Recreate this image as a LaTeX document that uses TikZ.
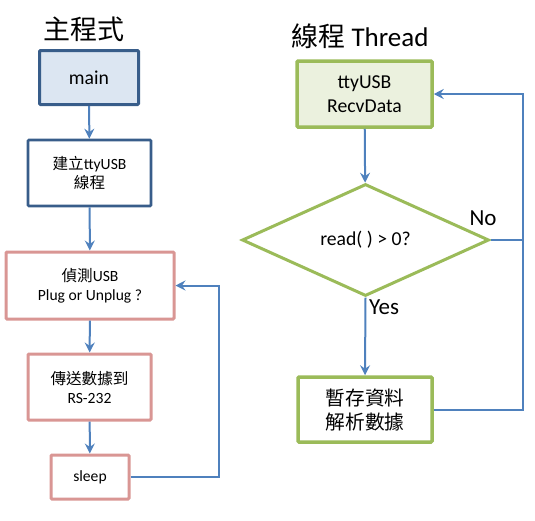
\documentclass[tikz,border=0pt]{standalone}
\usepackage{fontspec}
\setmainfont{Carlito}
\newfontfamily\cjk{Noto Sans CJK TC}
\usepackage{tikz}
\usetikzlibrary{arrows.meta, positioning, shapes.geometric}

\definecolor{mainfill}{HTML}{DCE6F2}
\definecolor{mainline}{HTML}{385D8A}
\definecolor{pinkline}{HTML}{D99694}
\definecolor{greenline}{HTML}{9BBB59}
\definecolor{greenfill}{HTML}{EBF1DE}
\definecolor{flowblue}{HTML}{4F81BD}

\begin{document}
\begin{tikzpicture}[
  x=1pt, y=-1pt,
  box/.style={draw, rounded corners=1pt, align=center, font=\fontsize{15.6}{19}\selectfont,
              inner sep=0pt},
  bigtext/.style={font=\fontsize{19.7}{24}\selectfont},
  mainbox/.style={box, bigtext, fill=mainfill, draw=mainline, line width=3pt},
  bluebox/.style={box, fill=white, draw=mainline, line width=2.7pt},
  pinkbox/.style={box, fill=white, draw=pinkline, line width=3pt},
  greenbox/.style={box, bigtext, draw=greenline, line width=3.5pt},
  decision/.style={diamond, draw=greenline, line width=3pt, fill=white,
              bigtext, inner sep=0pt},
  title/.style={font=\fontsize{27}{32}\selectfont},
  answer/.style={font=\fontsize{23}{27}\selectfont},
  arr/.style={-{Stealth[length=10pt, width=10pt, inset=3.5pt]}, line width=2pt, flowblue},
  loopline/.style={line width=2pt, flowblue},
]
\useasboundingbox (0,0) rectangle (535,520);

% --- main program, left column ---
\node[title] (maintitle) at (84,29) {\cjk 主程式};
\node[mainbox, minimum width=99pt, minimum height=54pt] (main) at (89,77.5) {main};
\node[bluebox, minimum width=123pt, minimum height=66pt] (mkthread) at (89.5,173)
  {{\cjk 建立}ttyUSB\\ {\cjk 線程}};
\node[pinkbox, minimum width=168pt, minimum height=67pt] (detect) at (90,285.5)
  {{\cjk 偵測}USB\\ Plug or Unplug ?};
\node[pinkbox, minimum width=123pt, minimum height=66pt] (send) at (89.5,387)
  {{\cjk 傳送數據到}\\ RS-232};
\node[pinkbox, minimum width=78pt, minimum height=44pt] (sleep) at (90,477) {sleep};

% --- thread, right column ---
\node[title] (threadtitle) at (360,36) {{\cjk 線程} Thread};
\node[greenbox, fill=greenfill, minimum width=135pt, minimum height=66pt] (recv) at (364.5,94)
  {ttyUSB\\ RecvData};
\node[decision, minimum width=247pt, minimum height=112pt] (check) at (365.5,240)
  {read( ) > 0?};
\node[greenbox, fill=white, minimum width=134pt, minimum height=65pt] (store) at (365,409.5)
  {{\cjk 暫存資料}\\ {\cjk 解析數據}};
\node[answer] (no) at (483,218) {No};
\node[answer] (yes) at (384,307) {Yes};
\coordinate (rightrail) at (523,0);
\coordinate (leftrail) at (219,0);

% --- main program wiring ---
\draw[arr] (main) -- (mkthread);
\draw[arr] (mkthread) -- (detect);
\draw[arr] (detect) -- (send);
\draw[arr] (send) -- (sleep);
\draw[arr] (sleep.east) -- (sleep.east -| leftrail) -- (detect.east -| leftrail)
  -- (detect.east);

% --- thread wiring ---
\draw[arr] (recv) -- (check);
\draw[arr] (check.south) -- (store.north);
\draw[loopline] (check.east) -- (check.east -| rightrail);
\draw[arr] (store.east) -- (store.east -| rightrail) -- (recv.east -| rightrail) -- (recv.east);

\end{tikzpicture}
\end{document}
